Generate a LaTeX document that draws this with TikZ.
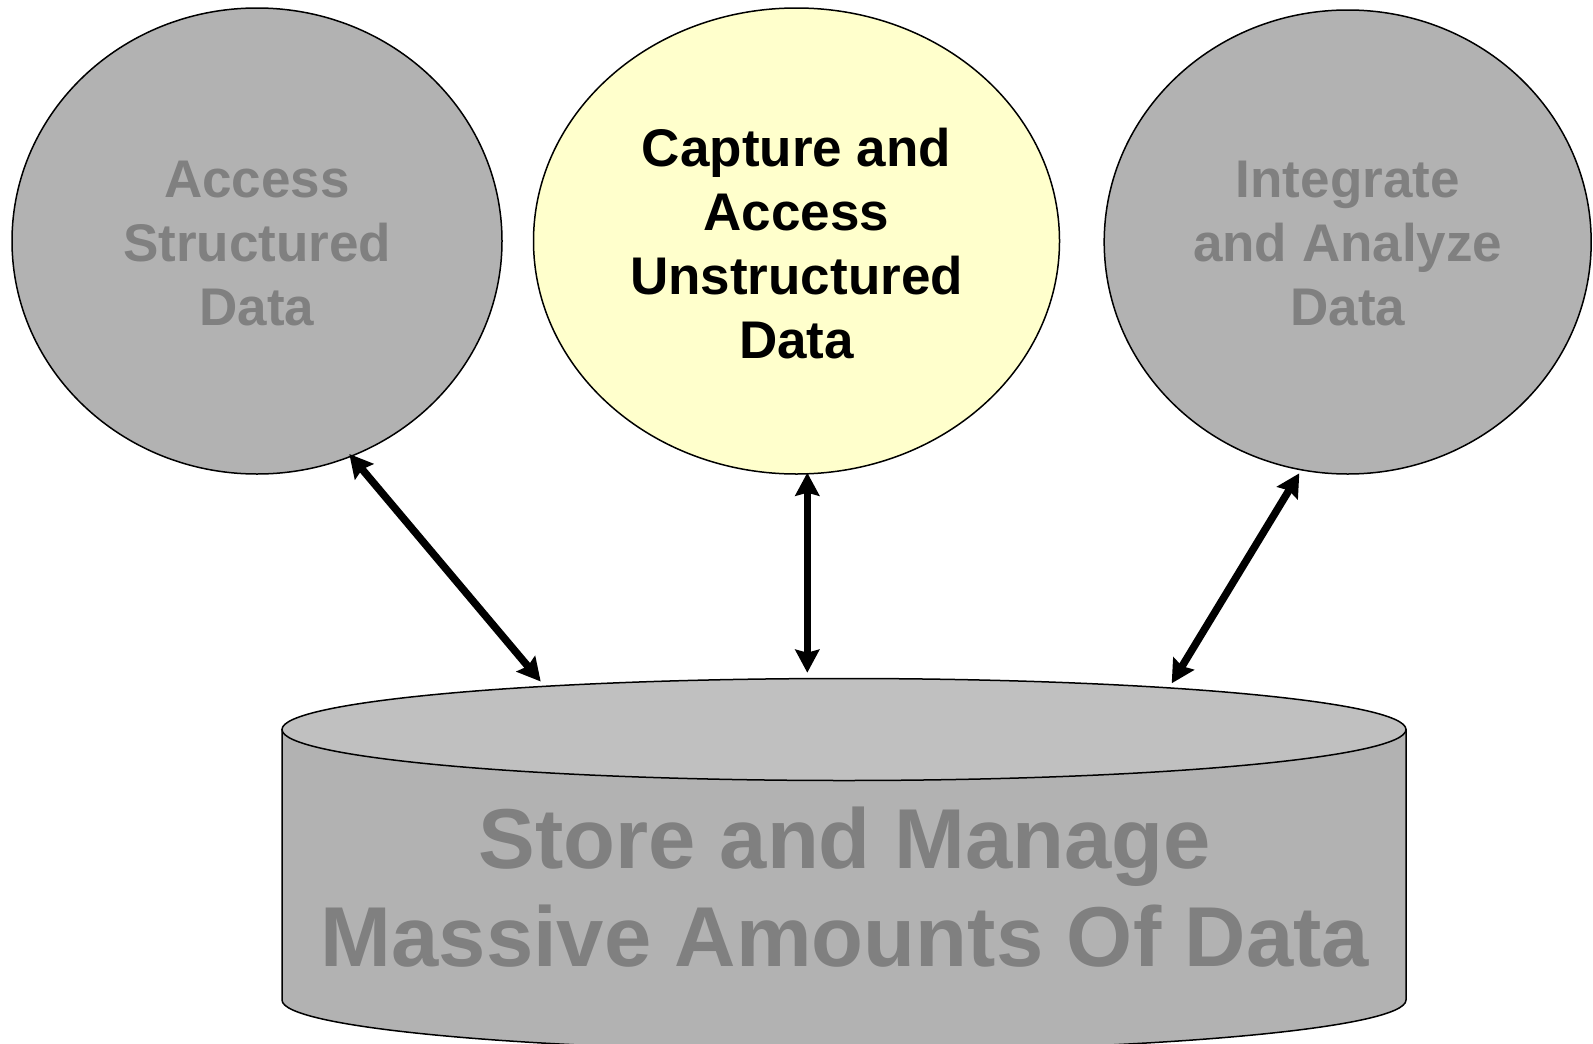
\documentclass[tikz,border=0pt]{standalone}
\usepackage{fontspec}
\setmainfont{Liberation Sans}
\usetikzlibrary{shapes.geometric,arrows.meta}
\definecolor{cgrey}{RGB}{178,178,178}
\definecolor{ctop}{RGB}{192,192,192}
\definecolor{ctext}{RGB}{128,128,128}
\definecolor{cyel}{RGB}{255,255,204}
\tikzset{
  bubble/.style={ellipse, draw=black, line width=1.5pt, inner sep=0pt},
  greybubble/.style={bubble, fill=cgrey},
  yelbubble/.style={bubble, fill=cyel},
  bubtext/.style={align=center, inner sep=0pt, font=\fontsize{53}{64}\selectfont\bfseries},
  greytext/.style={bubtext, text=ctext},
  blacktext/.style={bubtext, text=black},
  link/.style={line width=7.5pt, {Stealth[length=23pt,width=24pt,inset=3pt]}-{Stealth[length=23pt,width=24pt,inset=3pt]}}
}
\begin{document}
\begin{tikzpicture}[x=1pt,y=-1pt]
\useasboundingbox (0,0) rectangle (1593,1044);
% cylinder body
\path[fill=cgrey, draw=black, line width=1.5pt]
  (282,729.5) -- (282,1000) arc[start angle=180, end angle=360, x radius=562, y radius=-51]
  -- (1406,729.5) -- cycle;
\node[ellipse, draw=black, line width=1.5pt, fill=ctop, minimum width=1124pt, minimum height=102pt, inner sep=0pt] (cyltop) at (844,729.5) {};
\node[text=ctext, font=\fontsize{85}{98.5}\selectfont\bfseries, align=center] (store) at (845,887)
  {Store and Manage\\Massive Amounts Of Data};
% bubbles
\node[greybubble, minimum width=490pt, minimum height=466pt] (left) at (257,241) {};
\node[greytext] (lefttext) at (257,244) {Access\\Structured\\Data};
\node[yelbubble, minimum width=526pt, minimum height=466pt] (mid) at (796.5,241) {};
\node[blacktext] (midtext) at (796.5,244) {Capture and\\Access\\Unstructured\\Data};
\node[greybubble, minimum width=487pt, minimum height=464pt] (right) at (1347.7,242) {};
\node[greytext] (righttext) at (1347.7,244) {Integrate\\and Analyze\\Data};
% link end points on the borders
\coordinate (l1) at (349.3,454);
\coordinate (l2) at (540.7,681.5);
\coordinate (m1) at (807.3,472.7);
\coordinate (m2) at (807.3,672.7);
\coordinate (r1) at (1299.3,473.3);
\coordinate (r2) at (1171.7,683.3);
% links
\draw[link] (l1) -- (l2);
\draw[link] (m1) -- (m2);
\draw[link] (r1) -- (r2);
\end{tikzpicture}
\end{document}
